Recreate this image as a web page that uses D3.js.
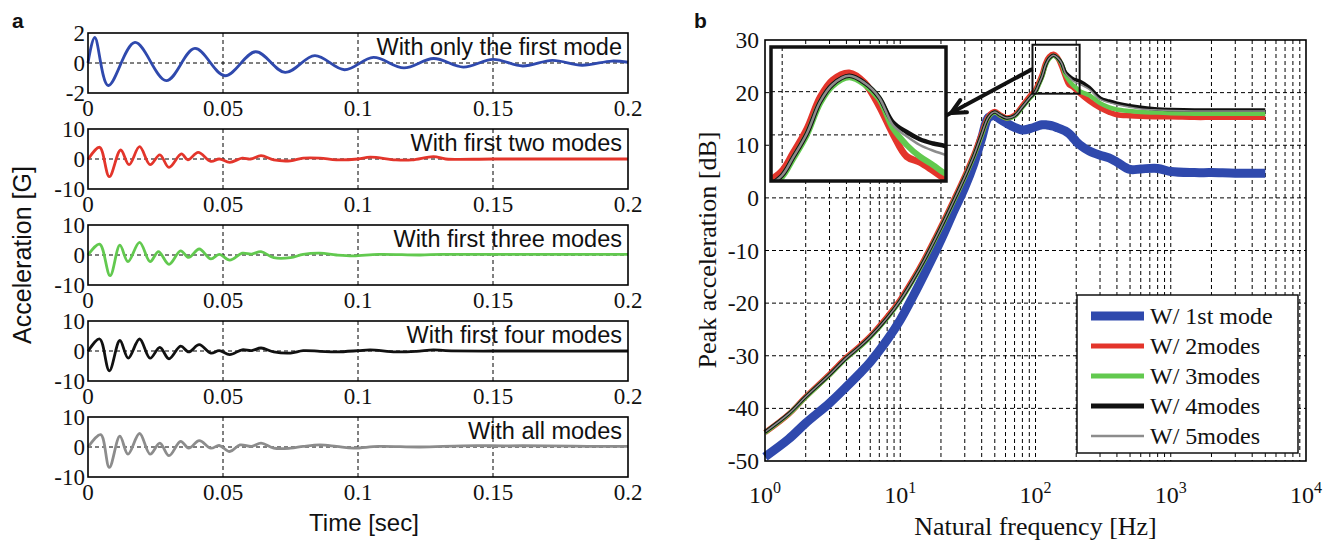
<!DOCTYPE html>
<html>
<head>
<meta charset="utf-8">
<script src="https://cdn.jsdelivr.net/npm/d3@7"></script>
<style>
  body { margin: 0; background: #fff; }
  text { fill: #111; }
</style>
</head>
<body>
<script>
// time histories (panel a)
var tMode1 = [0, 0.0025, 0.0075, 0.0174, 0.029, 0.0396, 0.0507, 0.0621, 0.073, 0.084, 0.095, 0.1057, 0.117, 0.128, 0.139, 0.150, 0.161, 0.172, 0.183, 0.194, 0.2];
var aMode1 = [0, 1.7, -1.5, 1.37, -1.18, 0.97, -0.85, 0.75, -0.63, 0.49, -0.45, 0.37, -0.33, 0.3, -0.27, 0.24, -0.2, 0.18, -0.15, 0.13, 0.05];

var tMode2 = [0, 0.0043, 0.0079, 0.0121, 0.0152, 0.0191, 0.023, 0.0266, 0.030, 0.0346, 0.037, 0.0408, 0.0455, 0.0486, 0.0525, 0.0571, 0.0602, 0.0641, 0.0688, 0.075, 0.0797, 0.0859, 0.092, 0.1, 0.1045, 0.114, 0.12, 0.128, 0.1325, 0.15, 0.2];
var aMode2 = [-0.2, 3.9, -5.9, 3.0, -1.9, 4.1, -1.9, 1.4, -2.8, 1.7, -0.3, 2.2, -0.8, 0, -1.1, 0.3, 0, 1.1, -0.3, -0.6, 0.3, 0.3, -0.3, 0, 0.6, -0.3, -0.3, 0.8, 0, 0, 0];

var tMode3 = [0, 0.0043, 0.0082, 0.0118, 0.0148, 0.0191, 0.023, 0.0261, 0.030, 0.0343, 0.0373, 0.0412, 0.0455, 0.0486, 0.0525, 0.0571, 0.0606, 0.0641, 0.0688, 0.075, 0.0797, 0.0859, 0.092, 0.0983, 0.1076, 0.123, 0.131, 0.17, 0.2];
var aMode3 = [0, 3.6, -6.9, 3.3, -2.2, 4.2, -2.2, 1.1, -3.1, 1.4, -0.8, 2.0, -1.3, 0.2, -1.7, 0.6, 0.3, 1.1, -0.9, -0.9, 0.2, 0.6, 0, -0.3, 0.2, 0, 0.2, 0.2, 0.2];

var tMode4 = [0, 0.0043, 0.0079, 0.0118, 0.0149, 0.0191, 0.023, 0.0266, 0.030, 0.0343, 0.0373, 0.0412, 0.0455, 0.0486, 0.0525, 0.0571, 0.0606, 0.0641, 0.0688, 0.075, 0.0797, 0.0859, 0.092, 0.1, 0.1045, 0.114, 0.1216, 0.128, 0.1325, 0.16, 0.2];
var aMode4 = [-0.1, 4.0, -6.6, 3.5, -2.4, 4.0, -2.4, 1.2, -2.6, 1.6, -0.3, 2.1, -0.7, 0.1, -1.2, 0.4, 0.1, 1.0, -0.3, -0.7, 0.1, -0.1, -0.3, 0.1, 0.4, -0.3, -0.1, 0.4, 0.1, 0, 0];

var tMode5 = [0, 0.0047, 0.0079, 0.0118, 0.0148, 0.0191, 0.023, 0.0266, 0.030, 0.0343, 0.0373, 0.0412, 0.0455, 0.0486, 0.0525, 0.0563, 0.0606, 0.0641, 0.0688, 0.075, 0.0797, 0.0859, 0.092, 0.0983, 0.1076, 0.123, 0.1387, 0.1542, 0.17, 0.185, 0.2];
var aMode5 = [-0.1, 4.1, -6.8, 3.6, -2.4, 4.5, -2.4, 1.3, -2.9, 1.9, -0.4, 2.1, -0.4, 0.5, -1.5, 0.7, 0.2, 1.3, -0.4, -0.4, 0.2, 0.7, 0.2, -0.4, 0.2, 0, 0.4, 0.4, 0.4, 0.2, 0.2];

var timeTicks = [0, 0.05, 0.1, 0.15, 0.2];
var timeTickLabels = ["0", "0.05", "0.1", "0.15", "0.2"];

// peak acceleration spectra (panel b)
var freqHz = [1, 1.5, 2, 3, 4, 5, 6, 8, 10, 12.5, 15, 20, 25, 30, 35, 40, 45, 50, 55, 61, 70, 80, 92, 100, 105, 112, 119, 126, 136, 146, 156, 166, 177, 188, 200, 212, 250, 300, 350, 400, 500, 600, 800, 1000, 1500, 2000, 3000, 5000];
var peak1Mode = [-49.2, -45.8, -42.8, -39.0, -35.9, -33.4, -31.2, -27.0, -23.2, -18.6, -14.6, -8.0, -2.4, 2.0, 6.5, 11.3, 15.3, 15.6, 14.9, 14.2, 13.4, 12.9, 13.2, 13.5, 13.7, 13.9, 13.9, 13.8, 13.6, 13.3, 13.0, 12.7, 12.2, 11.5, 10.7, 10.1, 8.9, 8.1, 7.6, 6.8, 5.4, 5.5, 5.6, 5.0, 4.8, 4.8, 4.7, 4.7];
var peak2Modes = [-44.6, -41.1, -37.8, -33.5, -30.3, -28.2, -26.3, -22.6, -19.3, -15.3, -11.7, -5.4, -0.2, 4.2, 8.2, 12.2, 15.5, 16.4, 15.7, 15.2, 15.7, 17.5, 19.5, 20.5, 21.7, 23.4, 25.6, 26.8, 27.3, 26.6, 25.0, 23.1, 21.5, 21.1, 20.5, 19.9, 18.4, 17.1, 16.3, 15.8, 15.6, 15.5, 15.4, 15.4, 15.3, 15.3, 15.3, 15.3];
var peak3Modes = [-44.6, -41.1, -37.9, -33.7, -30.5, -28.4, -26.5, -22.9, -19.6, -15.6, -12.0, -5.7, -0.5, 3.9, 7.9, 11.9, 15.3, 16.2, 15.6, 15.1, 15.5, 17.2, 19.1, 20.1, 21.3, 23.0, 25.2, 26.4, 27.0, 26.5, 25.5, 23.5, 22.3, 21.5, 20.9, 20.3, 19.5, 18.0, 17.2, 16.8, 16.5, 16.3, 16.2, 16.1, 16.0, 16.0, 16.0, 16.0];
var peak4Modes = [-44.5, -41.0, -37.8, -33.6, -30.4, -28.3, -26.4, -22.8, -19.5, -15.5, -11.9, -5.6, -0.4, 4.0, 8.0, 12.1, 15.4, 16.3, 15.7, 15.2, 15.6, 17.3, 19.2, 20.2, 21.4, 23.1, 25.3, 26.5, 27.1, 26.6, 25.6, 23.9, 23.2, 22.7, 22.4, 22.2, 21.0, 19.0, 18.4, 18.0, 17.5, 17.2, 16.9, 16.8, 16.7, 16.7, 16.7, 16.7];
var peak5Modes = [-44.5, -41.0, -37.8, -33.6, -30.4, -28.3, -26.4, -22.8, -19.5, -15.5, -11.9, -5.6, -0.4, 4.0, 8.0, 12.1, 15.4, 16.3, 15.7, 15.2, 15.6, 17.3, 19.2, 20.2, 21.4, 23.1, 25.3, 26.5, 27.1, 26.6, 25.6, 23.7, 22.9, 22.3, 21.9, 21.6, 20.6, 18.7, 18.1, 17.7, 17.2, 16.9, 16.7, 16.6, 16.5, 16.5, 16.5, 16.5];

var dbTicks = [30, 20, 10, 0, -10, -20, -30, -40, -50];
var decadeExps = [0, 1, 2, 3, 4];
var legendLabels = ["W/ 1st mode", "W/ 2modes", "W/ 3modes", "W/ 4modes", "W/ 5modes"];

// zoom box shown in the inset [Hz], [dB]
var zoomFreq = [95, 212];
var zoomDb = [19.8, 29.1];
var insetDbGrid = [23, 26];
var insetFreqGrid = [100];

var BLUE = "#2f49ad", RED = "#e3352b", GREEN = "#62c94f", BLACK = "#111", GRAY = "#8c8c8c";
var serif = "Liberation Serif, Times New Roman, serif";
var sans = "Liberation Sans, Arial, sans-serif";

var svg = d3.select("body").append("svg")
    .attr("width", 1332)
    .attr("height", 540);

// ================= panel a =================
var ax = d3.scaleLinear().domain([0, 0.2]).range([88, 628]);

var subplots = [
    {t: tMode1, a: aMode1, lim: 2, color: BLUE, label: "With only the first mode"},
    {t: tMode2, a: aMode2, lim: 10, color: RED, label: "With first two modes"},
    {t: tMode3, a: aMode3, lim: 10, color: GREEN, label: "With first three modes"},
    {t: tMode4, a: aMode4, lim: 10, color: BLACK, label: "With first four modes"},
    {t: tMode5, a: aMode5, lim: 10, color: GRAY, label: "With all modes"}
];

subplots.forEach(function(sp, i) {
    var top = 33 + i * 96, h = 60;
    var y = d3.scaleLinear().domain([-sp.lim, sp.lim]).range([top + h, top]);
    var g = svg.append("g");

    // dashed grid
    g.selectAll("line.vg").data([0.05, 0.1, 0.15]).enter().append("line")
        .attr("x1", ax).attr("x2", ax)
        .attr("y1", top).attr("y2", top + h)
        .attr("stroke", "#000").attr("stroke-width", 1).attr("stroke-dasharray", "4,3");
    g.append("line")
        .attr("x1", ax(0)).attr("x2", ax(0.2))
        .attr("y1", y(0)).attr("y2", y(0))
        .attr("stroke", "#000").attr("stroke-width", 1).attr("stroke-dasharray", "4,3");

    g.append("text")
        .attr("x", ax(0.2) - 6).attr("y", top + 22)
        .attr("text-anchor", "end")
        .style("font-family", sans).style("font-size", "23.5px")
        .text(sp.label);

    var line = d3.line()
        .x(function(d) { return ax(d[0]); })
        .y(function(d) { return y(d[1]); })
        .curve(d3.curveCatmullRom);
    g.append("path")
        .datum(d3.zip(sp.t, sp.a))
        .attr("d", line)
        .attr("fill", "none")
        .attr("stroke", sp.color)
        .attr("stroke-width", 2.8)
        .attr("stroke-linejoin", "round");

    g.append("rect")
        .attr("x", ax(0)).attr("y", top)
        .attr("width", ax(0.2) - ax(0)).attr("height", h)
        .attr("fill", "none").attr("stroke", "#000").attr("stroke-width", 1.6);

    // tick labels
    g.selectAll("text.yt").data([sp.lim, 0, -sp.lim]).enter().append("text")
        .attr("x", ax(0) - 3).attr("y", function(d) { return y(d) + 8; })
        .attr("text-anchor", "end")
        .style("font-family", serif).style("font-size", "23px")
        .text(function(d) { return d; });
    g.selectAll("text.xt").data(timeTicks).enter().append("text")
        .attr("x", ax).attr("y", top + h + 23)
        .attr("text-anchor", "middle")
        .style("font-family", serif).style("font-size", "23px")
        .text(function(d, j) { return timeTickLabels[j]; });
});

svg.append("text").attr("x", 12).attr("y", 28)
    .style("font-family", sans).style("font-size", "21px").style("font-weight", "bold")
    .text("a");
svg.append("text").attr("x", ax(0.1) + 6).attr("y", 531)
    .attr("text-anchor", "middle")
    .style("font-family", sans).style("font-size", "24px")
    .text("Time [sec]");
svg.append("text")
    .attr("transform", "translate(31,255) rotate(-90)")
    .attr("text-anchor", "middle")
    .style("font-family", sans).style("font-size", "25px")
    .text("Acceleration [G]");

// ================= panel b =================
var bx = d3.scaleLog().domain([1, 1e4]).range([765, 1306]);
var by = d3.scaleLinear().domain([-50, 30]).range([461, 40]);
var gb = svg.append("g");

var minorFreqs = [];
decadeExps.slice(0, 4).forEach(function(e) {
    for (var m = 1; m <= 9; m++) minorFreqs.push(m * Math.pow(10, e));
});
minorFreqs.push(1e4);

gb.selectAll("line.vg").data(minorFreqs.slice(1, -1)).enter().append("line")
    .attr("x1", bx).attr("x2", bx)
    .attr("y1", by(30)).attr("y2", by(-50))
    .attr("stroke", "#000").attr("stroke-width", 1).attr("stroke-dasharray", "4,3");
gb.selectAll("line.hg").data(dbTicks.slice(1, -1)).enter().append("line")
    .attr("x1", bx(1)).attr("x2", bx(1e4))
    .attr("y1", by).attr("y2", by)
    .attr("stroke", "#000").attr("stroke-width", 1).attr("stroke-dasharray", "4,3");

var series = [
    {v: peak1Mode, color: BLUE, w: 9, iw: 9, lw: 9},
    {v: peak2Modes, color: RED, w: 5.5, iw: 7, lw: 5},
    {v: peak3Modes, color: GREEN, w: 4.5, iw: 6, lw: 5},
    {v: peak4Modes, color: BLACK, w: 3.5, iw: 4.5, lw: 5},
    {v: peak5Modes, color: GRAY, w: 1.5, iw: 2.5, lw: 2.5}
];

var bLine = d3.line()
    .x(function(d) { return bx(d[0]); })
    .y(function(d) { return by(d[1]); })
    .curve(d3.curveCatmullRom);

series.forEach(function(s) {
    gb.append("path")
        .datum(d3.zip(freqHz, s.v))
        .attr("d", bLine)
        .attr("fill", "none")
        .attr("stroke", s.color)
        .attr("stroke-width", s.w)
        .attr("stroke-linejoin", "round");
});

gb.append("rect")
    .attr("x", bx(1)).attr("y", by(30))
    .attr("width", bx(1e4) - bx(1)).attr("height", by(-50) - by(30))
    .attr("fill", "none").attr("stroke", "#000").attr("stroke-width", 1.6);

// zoom rectangle in the main axes
gb.append("rect")
    .attr("x", bx(zoomFreq[0])).attr("y", by(zoomDb[1]))
    .attr("width", bx(zoomFreq[1]) - bx(zoomFreq[0]))
    .attr("height", by(zoomDb[0]) - by(zoomDb[1]))
    .attr("fill", "none").attr("stroke", "#111").attr("stroke-width", 2);

// inset
var ix = d3.scaleLog().domain(zoomFreq).range([771, 946]);
var iy = d3.scaleLinear().domain(zoomDb).range([181, 47]);
var gi = svg.append("g");
svg.append("clipPath").attr("id", "insetClip").append("rect")
    .attr("x", 771).attr("y", 47).attr("width", 175).attr("height", 134);
gi.append("rect").attr("x", 771).attr("y", 47).attr("width", 175).attr("height", 134)
    .attr("fill", "#fff");
gi.selectAll("line.ig").data(insetDbGrid).enter().append("line")
    .attr("x1", 771).attr("x2", 946).attr("y1", iy).attr("y2", iy)
    .attr("stroke", "#000").attr("stroke-width", 1).attr("stroke-dasharray", "4,3");
gi.selectAll("line.igv").data(insetFreqGrid).enter().append("line")
    .attr("x1", ix).attr("x2", ix).attr("y1", 47).attr("y2", 181)
    .attr("stroke", "#000").attr("stroke-width", 1).attr("stroke-dasharray", "4,3");
var iLine = d3.line()
    .x(function(d) { return ix(d[0]); })
    .y(function(d) { return iy(d[1]); })
    .curve(d3.curveCatmullRom);
var gic = gi.append("g").attr("clip-path", "url(#insetClip)");
series.slice(1).forEach(function(s) {
    gic.append("path")
        .datum(d3.zip(freqHz, s.v).filter(function(d) { return d[0] >= 50 && d[0] <= 400; }))
        .attr("d", iLine)
        .attr("fill", "none")
        .attr("stroke", s.color)
        .attr("stroke-width", s.iw)
        .attr("stroke-linejoin", "round");
});
gi.append("rect").attr("x", 771).attr("y", 47).attr("width", 175).attr("height", 134)
    .attr("fill", "none").attr("stroke", "#111").attr("stroke-width", 3.5);

// arrow from zoom box to inset
var tail = [bx(zoomFreq[0]), by(24.5)], tip = [951, 113];
var ang = Math.atan2(tip[1] - tail[1], tip[0] - tail[0]);
var hl = 16;
svg.append("line")
    .attr("x1", tail[0]).attr("y1", tail[1]).attr("x2", tip[0] + 6 * Math.cos(ang)).attr("y2", tip[1] + 6 * Math.sin(ang))
    .attr("stroke", "#111").attr("stroke-width", 4);
svg.append("path")
    .attr("d", "M" + (tip[0] - hl * Math.cos(ang - 0.45)) + "," + (tip[1] - hl * Math.sin(ang - 0.45)) +
               "L" + tip[0] + "," + tip[1] +
               "L" + (tip[0] - hl * Math.cos(ang + 0.45)) + "," + (tip[1] - hl * Math.sin(ang + 0.45)))
    .attr("fill", "none").attr("stroke", "#111").attr("stroke-width", 4)
    .attr("stroke-linecap", "round").attr("stroke-linejoin", "miter");

// tick labels
gb.selectAll("text.yt").data(dbTicks).enter().append("text")
    .attr("x", bx(1) - 6).attr("y", function(d) { return by(d) + 8; })
    .attr("text-anchor", "end")
    .style("font-family", serif).style("font-size", "23.5px")
    .text(function(d) { return d; });
var xt = gb.selectAll("text.xt").data(decadeExps).enter().append("text")
    .attr("x", function(d) { return bx(Math.pow(10, d)); }).attr("y", 503)
    .attr("text-anchor", "middle")
    .style("font-family", serif).style("font-size", "24px");
xt.append("tspan").text("10");
xt.append("tspan").attr("dy", -10).style("font-size", "16px").text(function(d) { return d; });

svg.append("text").attr("x", 694).attr("y", 28)
    .style("font-family", sans).style("font-size", "21px").style("font-weight", "bold")
    .text("b");
svg.append("text").attr("x", bx(100)).attr("y", 535)
    .attr("text-anchor", "middle")
    .style("font-family", serif).style("font-size", "26px")
    .text("Natural frequency [Hz]");
svg.append("text")
    .attr("transform", "translate(716,250) rotate(-90)")
    .attr("text-anchor", "middle")
    .style("font-family", serif).style("font-size", "26px")
    .text("Peak acceleration [dB]");

// legend
var lg = svg.append("g").attr("transform", "translate(1077,295)");
lg.append("rect").attr("width", 221).attr("height", 158)
    .attr("fill", "#fff").attr("stroke", "#111").attr("stroke-width", 1.5);
series.forEach(function(s, i) {
    var yy = 21 + i * 30;
    lg.append("line").attr("x1", 14).attr("x2", 67).attr("y1", yy).attr("y2", yy)
        .attr("stroke", s.color).attr("stroke-width", s.lw);
    lg.append("text").attr("x", 73).attr("y", yy + 8)
        .style("font-family", serif).style("font-size", "24px")
        .text(legendLabels[i]);
});
</script>
</body>
</html>
